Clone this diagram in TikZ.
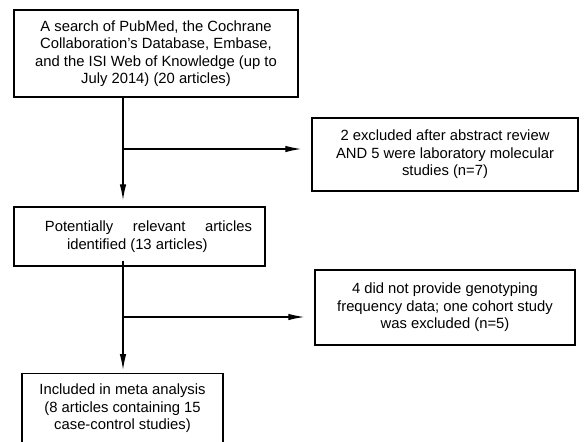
\documentclass[tikz,border=0pt]{standalone}
\usepackage{fontspec}
\setmainfont{Liberation Sans}
\usetikzlibrary{arrows.meta}
\begin{document}
\begin{tikzpicture}[x=1pt,y=-1pt,
  txt/.style={font=\fontsize{14.8}{17.5}\selectfont},
  box/.style={draw,line width=1.4pt,inner sep=0pt,align=center,txt},
  conn/.style={line width=1.2pt},
  arr/.style={conn,-{Latex[length=16pt,width=6.5pt]}}]
\useasboundingbox (0,0) rectangle (584,442);
\begin{scope}
\clip (0,0) rectangle (584,442);
\node[box,minimum width=284pt,minimum height=87pt] (b1) at (156,53.5) {A search of PubMed, the Cochrane\\Collaboration's Database, Embase,\\and the ISI Web of Knowledge (up to\\July 2014) (20 articles)};
\node[box,minimum width=266pt,minimum height=73pt] (b2) at (445,154.5) {2 excluded after abstract review\\AND 5 were laboratory molecular\\studies (n=7)};
\node[box,minimum width=251pt,minimum height=59pt] (b3) at (139.5,236.5) {\hspace*{18pt}\parbox{207pt}{Potentially\hfill relevant\hfill articles\\\hspace*{22pt}identified (13 articles)}};
\node[box,minimum width=260pt,minimum height=75pt] (b4) at (445,307.5) {4 did not provide genotyping\\frequency data; one cohort study\\was excluded (n=5)};
\node[box,minimum width=201pt,minimum height=79pt,anchor=north] (b5) at (122.5,373) {};
\node[txt,align=center,anchor=north,inner sep=0pt] (t5) at (122.5,384) {Included in meta analysis\\(8 articles containing 15\\case-control studies)};
\end{scope}
\coordinate (j1) at (123,149);
\coordinate (j2) at (123,317);
\draw[arr,shorten >=6pt] (b1.south -| j1) -- (b3.north -| j1);
\draw[arr,shorten >=10pt] (j1) -- (j1 -| b2.west);
\draw[arr,shorten >=3pt] ([yshift=6pt]b3.south -| j2) -- (b5.north -| j2);
\draw[arr,shorten >=10pt] (j2) -- (j2 -| b4.west);
\end{tikzpicture}
\end{document}
